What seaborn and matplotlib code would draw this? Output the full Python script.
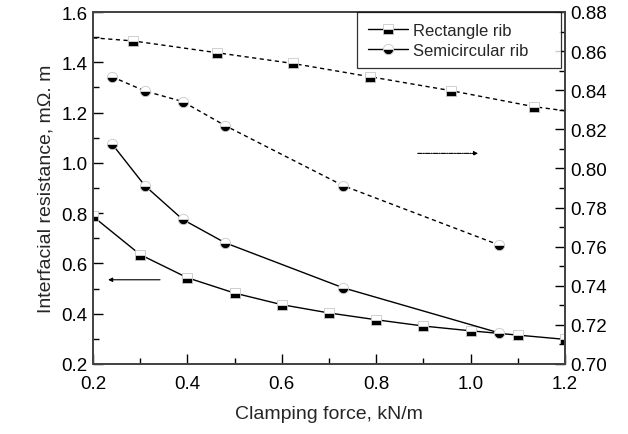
import matplotlib
matplotlib.use("Agg")
import matplotlib.pyplot as plt
import seaborn as sns
import pandas as pd
from matplotlib.lines import Line2D
from matplotlib.ticker import MultipleLocator, FormatStrFormatter

# ---- data ----
rect_solid_x = [0.2, 0.3, 0.4, 0.5, 0.6, 0.7, 0.8, 0.9, 1.0, 1.1, 1.2]
rect_solid_y = [0.787, 0.635, 0.543, 0.482, 0.436, 0.403, 0.376, 0.351, 0.332, 0.315, 0.298]

semi_solid_x = [0.24, 0.31, 0.39, 0.48, 0.73, 1.06]
semi_solid_y = [1.076, 0.909, 0.775, 0.682, 0.503, 0.324]

rect_dash_x = [0.2, 0.285, 0.462, 0.623, 0.787, 0.958, 1.134, 1.2]
rect_dash_y = [0.8668, 0.8652, 0.8592, 0.8537, 0.8469, 0.8398, 0.8316, 0.8295]

semi_dash_x = [0.24, 0.31, 0.39, 0.48, 0.73, 1.06]
semi_dash_y = [0.8469, 0.8396, 0.8342, 0.8219, 0.7912, 0.7609]

x_label = "Clamping force, kN/m"
y_label = "Interfacial resistance, m\u03a9. m"
legend_labels = ["Rectangle rib", "Semicircular rib"]

sns.set_style("ticks")
plt.rcParams['font.family'] = ['Liberation Sans', 'DejaVu Sans']

fig = plt.figure(figsize=(6.28, 4.35), dpi=100)
ax = fig.add_axes([93/628, 1-365/435, (565-93)/628, (365-13)/435])
ax2 = ax.twinx()

mk_common = dict(markersize=7.4, fillstyle='bottom', markerfacecolor='black',
                 markerfacecoloralt='white', markeredgecolor='#c8c8c8',
                 markeredgewidth=0.6, color='black')

def draw(axis, xs, ys, marker, ls, markevery=None):
    df = pd.DataFrame({"x": xs, "y": ys})
    kw = dict(mk_common)
    if markevery is not None:
        kw['markevery'] = markevery
    sns.lineplot(data=df, x="x", y="y", ax=axis, marker=marker, linestyle=ls,
                 linewidth=1.0, sort=False, legend=False, **kw)

draw(ax, rect_solid_x, rect_solid_y, 's', '-')
draw(ax, semi_solid_x, semi_solid_y, 'o', '-')
draw(ax2, rect_dash_x, rect_dash_y, 's', (0, (3, 2.5)),
     markevery=list(range(1, len(rect_dash_x) - 1)))
draw(ax2, semi_dash_x, semi_dash_y, 'o', (0, (3, 2.5)))

ax.set_xlim(0.2, 1.2)
ax.set_ylim(0.2, 1.6)
ax2.set_ylim(0.70, 0.88)

ax.xaxis.set_major_locator(MultipleLocator(0.2))
ax.xaxis.set_minor_locator(MultipleLocator(0.1))
ax.yaxis.set_major_locator(MultipleLocator(0.2))
ax.yaxis.set_minor_locator(MultipleLocator(0.1))
ax2.yaxis.set_major_locator(MultipleLocator(0.02))
ax2.yaxis.set_minor_locator(MultipleLocator(0.01))

ax.xaxis.set_major_formatter(FormatStrFormatter('%.1f'))
ax.yaxis.set_major_formatter(FormatStrFormatter('%.1f'))
ax2.yaxis.set_major_formatter(FormatStrFormatter('%.2f'))

for a in (ax, ax2):
    a.tick_params(which='both', direction='in', colors='black', labelsize=13.5, width=1.0)
    a.tick_params(which='major', length=7)
    a.tick_params(which='minor', length=4)
    for s in a.spines.values():
        s.set_color('#444444')
        s.set_linewidth(1.3)
ax.tick_params(axis='x', pad=8)
ax2.tick_params(axis='y', pad=4)
ax.tick_params(axis='y', pad=4)

ax.set_xlabel(x_label, fontsize=14, labelpad=9)
ax.set_ylabel(y_label, fontsize=14, labelpad=5)
ax2.set_ylabel("")

# arrows
ax.annotate("", xy=(0.232, 0.535), xytext=(0.342, 0.535),
            arrowprops=dict(arrowstyle='-|>', color='black', lw=0.8,
                            mutation_scale=6, shrinkA=0, shrinkB=0))
ax2.annotate("", xy=(1.016, 0.8077), xytext=(0.888, 0.8077),
             arrowprops=dict(arrowstyle='-|>', color='black', lw=0.8,
                             linestyle=(0, (4, 1, 1, 1)),
                             mutation_scale=6, shrinkA=0, shrinkB=0))

handles = [
    Line2D([], [], marker='s', linestyle='-', linewidth=1.0, **mk_common),
    Line2D([], [], marker='o', linestyle='-', linewidth=1.0, **mk_common),
]
leg = ax2.legend(handles, legend_labels, loc='upper left', mode='expand',
                 bbox_to_anchor=(357/628, 1-69/435, 204/628, 56/435),
                 bbox_transform=fig.transFigure,
                 fontsize=12, frameon=True, fancybox=False, borderaxespad=0,
                 handlelength=2.4, handletextpad=0.3, borderpad=0.65,
                 labelspacing=0.28)
leg.get_frame().set_edgecolor('black')
leg.get_frame().set_linewidth(0.9)

fig.savefig("out.png", dpi=100)
